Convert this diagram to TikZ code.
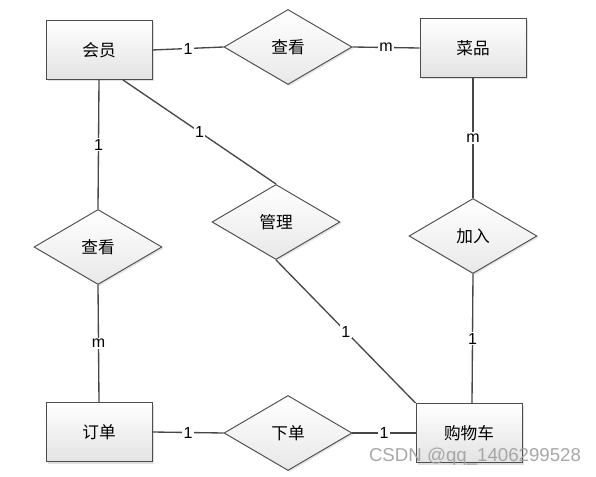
\documentclass[tikz,border=0pt]{standalone}
\usepackage{fontspec}
\setmainfont{Liberation Sans}
\newfontfamily\cjk{Noto Sans CJK SC}
\usetikzlibrary{shapes.geometric,shadows}
\begin{document}
\begin{tikzpicture}[x=0.75pt,y=-0.75pt,
  ent/.style={rectangle, draw=gray!60!black, line width=0.7pt,
    top color=white, bottom color=gray!22,
    minimum width=79.5pt, minimum height=44.25pt, inner sep=0pt,
    font=\cjk\fontsize{12.5}{14}\selectfont,
    drop shadow={opacity=0.25, shadow xshift=1.5pt, shadow yshift=-1.5pt}},
  rel/.style={diamond, draw=gray!60!black, line width=0.7pt,
    top color=white, bottom color=gray!18,
    minimum width=96pt, minimum height=56.25pt, inner sep=0pt,
    font=\cjk\fontsize{12.5}{14}\selectfont,
    drop shadow={opacity=0.2, shadow xshift=1.2pt, shadow yshift=-1.2pt}},
  conn/.style={draw=black!72, line width=1pt},
  card/.style={fill=white, inner sep=1pt, font=\fontsize{12}{14}\selectfont}
]
\useasboundingbox[fill=white] (0,0) rectangle (596,477);
% entities
\node[ent] (hy)  at (99,50)   {会员};
\node[ent] (cp)  at (473,48)  {菜品};
\node[ent] (dd)  at (99,432)  {订单};
\node[ent] (gwc) at (469,433) {购物车};
% relations
\node[rel] (ck1) at (288,47)  {查看};
\node[rel] (ck2) at (98,247)  {查看};
\node[rel] (gl)  at (276,222) {管理};
\node[rel] (jr)  at (473,236) {加入};
\node[rel] (xd)  at (288,433) {下单};
% connectors
\draw[conn] (hy.east) -- node[card] {1} (ck1.west);
\draw[conn] (ck1.east) -- node[card] {m} (cp.west);
\draw[conn] (hy.south) -- node[card] {1} (ck2.north);
\draw[conn] ([xshift=18pt]hy.south) -- node[card] {1} (gl.north);
\draw[conn] (cp.south) -- node[card] {m} (jr.north);
\draw[conn] (jr.south) -- node[card] {1} ([xshift=2.25pt]gwc.north);
\draw[conn] (gl.south) -- node[card] {1} (gwc.north west);
\draw[conn] (ck2.south) -- node[card] {m} (dd.north);
\draw[conn] (dd.east) -- node[card] {1} (xd.west);
\draw[conn] (xd.east) -- node[card] {1} (gwc.west);
% watermark
\node[text=gray!75, font=\fontsize{14}{16}\selectfont, opacity=0.9] (wm) at (475,457) {CSDN @qq\_1406299528};
\end{tikzpicture}
\end{document}
